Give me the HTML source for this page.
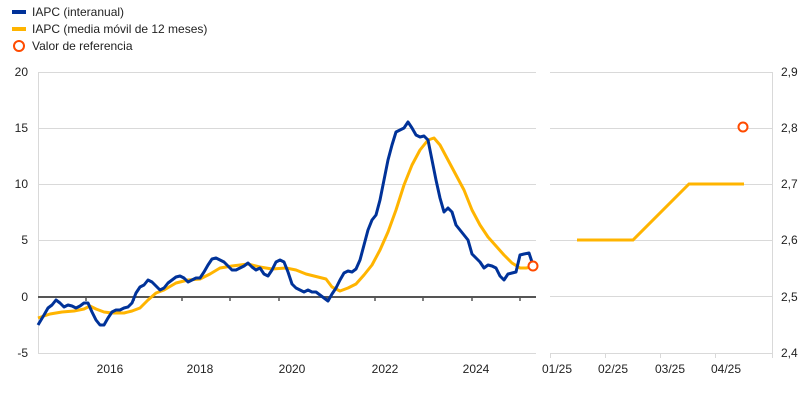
<!DOCTYPE html>
<html><head><meta charset="utf-8"><style>
body{margin:0;background:#fff;}
svg text{font-family:"Liberation Sans",sans-serif;font-size:12px;fill:#222;}
</style></head><body>
<svg width="808" height="404" viewBox="0 0 808 404" xmlns="http://www.w3.org/2000/svg">
<!-- legend -->
<line x1="12" y1="12" x2="26" y2="12" stroke="#003299" stroke-width="4"/>
<text x="32" y="16">IAPC (interanual)</text>
<line x1="12" y1="29" x2="26" y2="29" stroke="#FFB400" stroke-width="4"/>
<text x="32" y="33">IAPC (media móvil de 12 meses)</text>
<circle cx="19" cy="46" r="5" fill="#fff" stroke="#FF4B00" stroke-width="2"/>
<text x="32" y="50">Valor de referencia</text>

<!-- left grid -->
<g stroke="#d9d9d9" stroke-width="1">
<line x1="38" y1="72.5" x2="536" y2="72.5"/>
<line x1="38" y1="128.5" x2="536" y2="128.5"/>
<line x1="38" y1="184.5" x2="536" y2="184.5"/>
<line x1="38" y1="240.5" x2="536" y2="240.5"/>
<line x1="38" y1="353.5" x2="536" y2="353.5"/>
<line x1="38.5" y1="72" x2="38.5" y2="353"/>
</g>
<line x1="38" y1="297" x2="536" y2="297" stroke="#555" stroke-width="2"/>
<g stroke="#555" stroke-width="1.5">
<line x1="86" y1="297" x2="86" y2="301"/><line x1="134" y1="297" x2="134" y2="301"/>
<line x1="182" y1="297" x2="182" y2="301"/><line x1="230" y1="297" x2="230" y2="301"/>
<line x1="279" y1="297" x2="279" y2="301"/><line x1="327" y1="297" x2="327" y2="301"/>
<line x1="375" y1="297" x2="375" y2="301"/><line x1="423" y1="297" x2="423" y2="301"/>
<line x1="472" y1="297" x2="472" y2="301"/><line x1="520" y1="297" x2="520" y2="301"/>
</g>
<g text-anchor="end">
<text x="28" y="76">20</text><text x="28" y="132">15</text><text x="28" y="188">10</text>
<text x="28" y="244">5</text><text x="28" y="301">0</text><text x="28" y="357">-5</text>
</g>
<g text-anchor="middle">
<text x="110" y="373">2016</text><text x="200" y="373">2018</text><text x="292" y="373">2020</text>
<text x="385" y="373">2022</text><text x="476" y="373">2024</text>
</g>

<polyline fill="none" stroke="#FFB400" stroke-width="3" stroke-linejoin="round" points="38,318 50,314 62,312 74,311 84,309 90,306 96,309 104,312 112,313 124,313 132,311 140,308 148,300 156,293 164,290 176,283 188,280 200,279 210,274 220,268 232,266 248,264 260,267 272,269 286,268 296,270 306,274 318,277 326,279 332,287 340,291 348,288 356,284 364,275 372,265 380,250 388,232 396,210 404,185 412,165 420,150 428,140 434,138 440,145 448,160 456,175 464,190 472,210 480,225 488,237 496,246 504,255 512,263 520,268 526,268 532,267"/>
<polyline fill="none" stroke="#003299" stroke-width="3" stroke-linejoin="round" points="38,325 44,315 48,308 52,305 56,300 60,303 64,307 68,305 72,306 76,308 80,306 84,303 88,303 92,312 96,320 100,325 104,325 108,318 112,312 116,310 120,310 124,308 128,307 132,303 136,293 140,287 144,285 148,280 152,282 156,286 160,290 164,288 168,283 172,280 176,277 180,276 184,278 188,282 192,280 196,278 200,278 204,272 208,265 212,259 216,258 220,260 224,262 228,266 232,270 236,270 240,268 244,266 248,263 252,267 256,270 260,268 264,274 268,276 272,270 276,262 280,260 284,262 288,272 292,284 296,288 300,290 304,292 308,290 312,292 316,292 320,295 324,298 328,301 332,294 336,288 340,280 344,273 348,271 352,272 356,269 360,260 364,245 368,230 372,220 376,215 380,200 384,180 388,160 392,145 396,132 400,130 404,128 408,122 412,128 416,135 420,137 424,136 428,140 432,160 436,180 440,198 444,212 448,208 452,212 456,225 460,230 464,235 468,240 472,254 476,258 480,262 484,268 488,265 492,266 496,268 500,276 504,280 508,274 512,273 516,272 520,255 524,254 529,253 533,265"/>
<circle cx="533" cy="266" r="4.5" fill="#fff" stroke="#FF4B00" stroke-width="2"/>

<!-- right panel -->
<g stroke="#d9d9d9" stroke-width="1">
<line x1="550" y1="72.5" x2="772" y2="72.5"/>
<line x1="550" y1="128.5" x2="772" y2="128.5"/>
<line x1="550" y1="184.5" x2="772" y2="184.5"/>
<line x1="550" y1="240.5" x2="772" y2="240.5"/>
<line x1="550" y1="296.5" x2="772" y2="296.5"/>
<line x1="550" y1="353.5" x2="772" y2="353.5"/>
<line x1="772.5" y1="72" x2="772.5" y2="353"/>
<line x1="550.5" y1="353" x2="550.5" y2="358"/><line x1="605.5" y1="353" x2="605.5" y2="358"/>
<line x1="660.5" y1="353" x2="660.5" y2="358"/><line x1="715.5" y1="353" x2="715.5" y2="358"/>
<line x1="772.5" y1="353" x2="772.5" y2="358"/>
</g>
<g text-anchor="middle">
<text x="557" y="373">01/25</text><text x="613" y="373">02/25</text>
<text x="670" y="373">03/25</text><text x="726" y="373">04/25</text>
</g>
<g>
<text x="781" y="76">2,9</text><text x="781" y="132">2,8</text><text x="781" y="188">2,7</text>
<text x="781" y="244">2,6</text><text x="781" y="301">2,5</text><text x="781" y="357">2,4</text>
</g>
<polyline fill="none" stroke="#FFB400" stroke-width="3" points="577,240 633,240 689,184 744,184"/>
<circle cx="743" cy="127" r="4.5" fill="#fff" stroke="#FF4B00" stroke-width="2"/>
</svg>
</body></html>
